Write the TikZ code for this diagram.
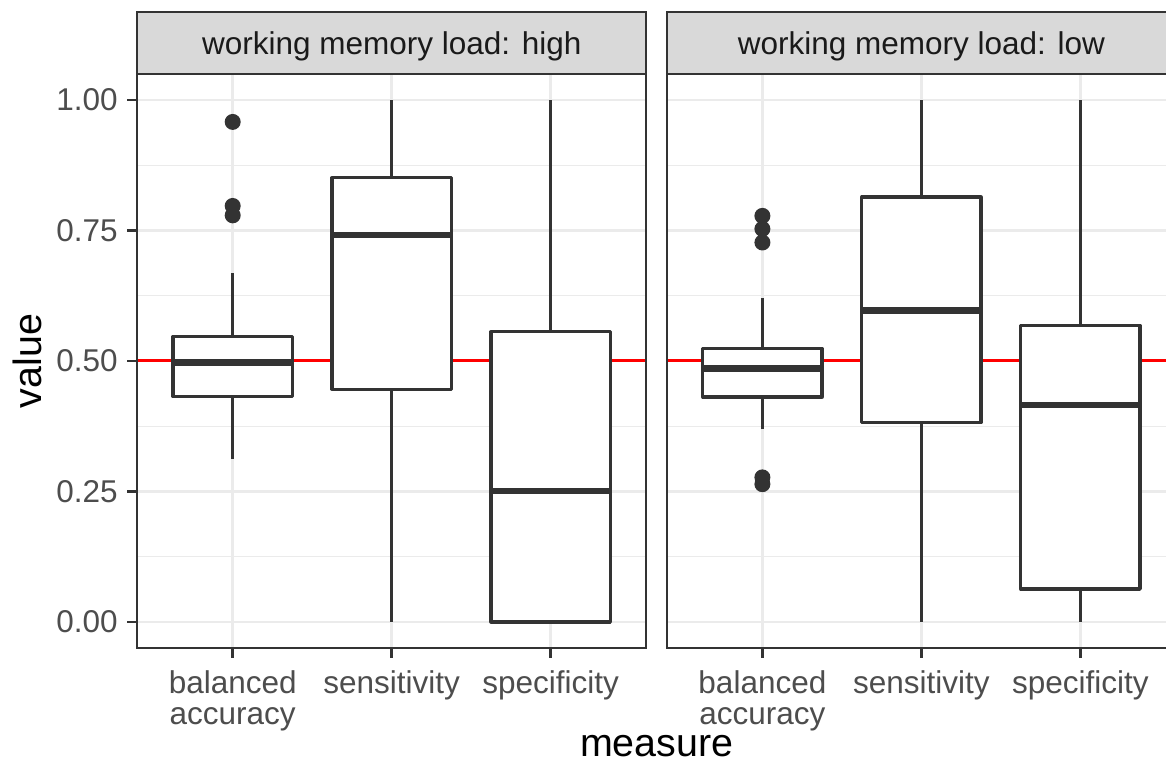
\documentclass[tikz,border=0pt]{standalone}
\usepackage{fontspec}
\setmainfont{Liberation Sans}
\usepackage{xcolor}
\usepackage{tikz}

\definecolor{inkgray}{HTML}{333333}
\definecolor{labelgray}{HTML}{4D4D4D}
\definecolor{gridgray}{HTML}{EBEBEB}
\definecolor{stripgray}{HTML}{D9D9D9}
\definecolor{striptext}{HTML}{1A1A1A}

\begin{document}
\begin{tikzpicture}[
    x=0.5pt, y=0.5pt,
    gridmajor/.style={draw=gridgray, line width=1.3pt},
    gridminor/.style={draw=gridgray, line width=0.65pt},
    chance/.style={draw=red, line width=1.5pt},
    boxline/.style={draw=inkgray, line width=1.65pt, line join=round},
    medianline/.style={draw=inkgray, line width=3.3pt},
    frame/.style={draw=inkgray, line width=1.1pt},
    strip/.style={frame, fill=stripgray},
    tick/.style={draw=inkgray, line width=1.25pt},
    ticklabel/.style={inner sep=0pt, text=labelgray, align=center, font=\fontsize{15.75pt}{15.5pt}\selectfont},
    striplabel/.style={inner sep=0pt, text=striptext, font=\fontsize{15.75pt}{15.5pt}\selectfont},
    axistitle/.style={inner sep=0pt, text=black, font=\fontsize{19.7pt}{19.7pt}\selectfont}
]

\useasboundingbox (0,0) rectangle (1166,769);
\fill[white] (0,0) rectangle (1166,769);

% Panel: high load
\begin{scope}[shift={(36.85pt,73.5pt)}, x=79.5pt, y=261pt]
  % grid
  \foreach \v in {0.125,0.375,0.625,0.875} \draw[gridminor] (0.4,\v) -- (3.6,\v);
  \foreach \v in {0,0.25,0.5,0.75,1} \draw[gridmajor] (0.4,\v) -- (3.6,\v);
  \foreach \c in {1,2,3} \draw[gridmajor] (\c,-0.05) -- (\c,1.05);
  \draw[chance] (0.4,0.5) -- (3.6,0.5);

  % balanced accuracy
  \draw[boxline] (1,0.312) -- (1,0.432) (1,0.547) -- (1,0.669);
  \draw[boxline, fill=white] (0.625,0.432) rectangle (1.375,0.547);
  \draw[medianline] (0.625,0.497) -- (1.375,0.497);
  \fill[inkgray] (1,0.958) circle (4pt) (1,0.797) circle (4pt) (1,0.779) circle (4pt);

  % sensitivity
  \draw[boxline] (2,0) -- (2,0.446) (2,0.851) -- (2,1);
  \draw[boxline, fill=white] (1.625,0.446) rectangle (2.375,0.851);
  \draw[medianline] (1.625,0.741) -- (2.375,0.741);

  % specificity
  \draw[boxline] (3,0.556) -- (3,1);
  \draw[boxline, fill=white] (2.625,0) rectangle (3.375,0.556);
  \draw[medianline] (2.625,0.251) -- (3.375,0.251);

  % frame and strip
  \draw[frame] (0.4,-0.05) rectangle (3.6,1.05);
  \draw[strip] (0.4,1.05) rectangle (3.6,1.1686);
  \node[striplabel] (stripHigh) at (2,1.102) {working memory load: high};

  % x axis
  \foreach \c in {1,2,3} \draw[tick] (\c,-0.05) -- ++(0,-5pt);
  \node[ticklabel, anchor=north, yshift=-11pt] (balHigh) at (1,-0.05) {balanced\\accuracy};
  \node[ticklabel, anchor=north, yshift=-11pt] (sensHigh) at (2,-0.05) {sensitivity};
  \node[ticklabel, anchor=north, yshift=-11pt] (specHigh) at (3,-0.05) {specificity};

  % y axis
  \foreach \v/\t [count=\i] in {0/0.00,0.25/0.25,0.5/0.50,0.75/0.75,1/1.00} {
    \draw[tick] (0.4,\v) -- ++(-5pt,0);
    \node[ticklabel, anchor=east, xshift=-9.65pt] (ytick\i) at (0.4,\v) {\t};
  }
\end{scope}

% Panel: low load
\begin{scope}[shift={(301.7pt,73.5pt)}, x=79.5pt, y=261pt]
  % grid
  \foreach \v in {0.125,0.375,0.625,0.875} \draw[gridminor] (0.4,\v) -- (3.6,\v);
  \foreach \v in {0,0.25,0.5,0.75,1} \draw[gridmajor] (0.4,\v) -- (3.6,\v);
  \foreach \c in {1,2,3} \draw[gridmajor] (\c,-0.05) -- (\c,1.05);
  \draw[chance] (0.4,0.5) -- (3.6,0.5);

  % balanced accuracy
  \draw[boxline] (1,0.369) -- (1,0.431) (1,0.524) -- (1,0.621);
  \draw[boxline, fill=white] (0.625,0.431) rectangle (1.375,0.524);
  \draw[medianline] (0.625,0.486) -- (1.375,0.486);
  \fill[inkgray] (1,0.778) circle (4pt) (1,0.753) circle (4pt) (1,0.727) circle (4pt)
                 (1,0.277) circle (4pt) (1,0.264) circle (4pt);

  % sensitivity
  \draw[boxline] (2,0) -- (2,0.382) (2,0.814) -- (2,1);
  \draw[boxline, fill=white] (1.625,0.382) rectangle (2.375,0.814);
  \draw[medianline] (1.625,0.597) -- (2.375,0.597);

  % specificity
  \draw[boxline] (3,0) -- (3,0.063) (3,0.568) -- (3,1);
  \draw[boxline, fill=white] (2.625,0.063) rectangle (3.375,0.568);
  \draw[medianline] (2.625,0.416) -- (3.375,0.416);

  % frame and strip
  \draw[frame] (0.4,-0.05) rectangle (3.6,1.05);
  \draw[strip] (0.4,1.05) rectangle (3.6,1.1686);
  \node[striplabel] (stripLow) at (2,1.102) {working memory load: low};

  % x axis
  \foreach \c in {1,2,3} \draw[tick] (\c,-0.05) -- ++(0,-5pt);
  \node[ticklabel, anchor=north, yshift=-11pt] (balLow) at (1,-0.05) {balanced\\accuracy};
  \node[ticklabel, anchor=north, yshift=-11pt] (sensLow) at (2,-0.05) {sensitivity};
  \node[ticklabel, anchor=north, yshift=-11pt] (specLow) at (3,-0.05) {specificity};
\end{scope}

% Axis titles
\node[axistitle, rotate=90] (ytitle) at (27,408) {value};
\node[axistitle, anchor=base] (xtitle) at (656.7,12) {measure};

\end{tikzpicture}
\end{document}
